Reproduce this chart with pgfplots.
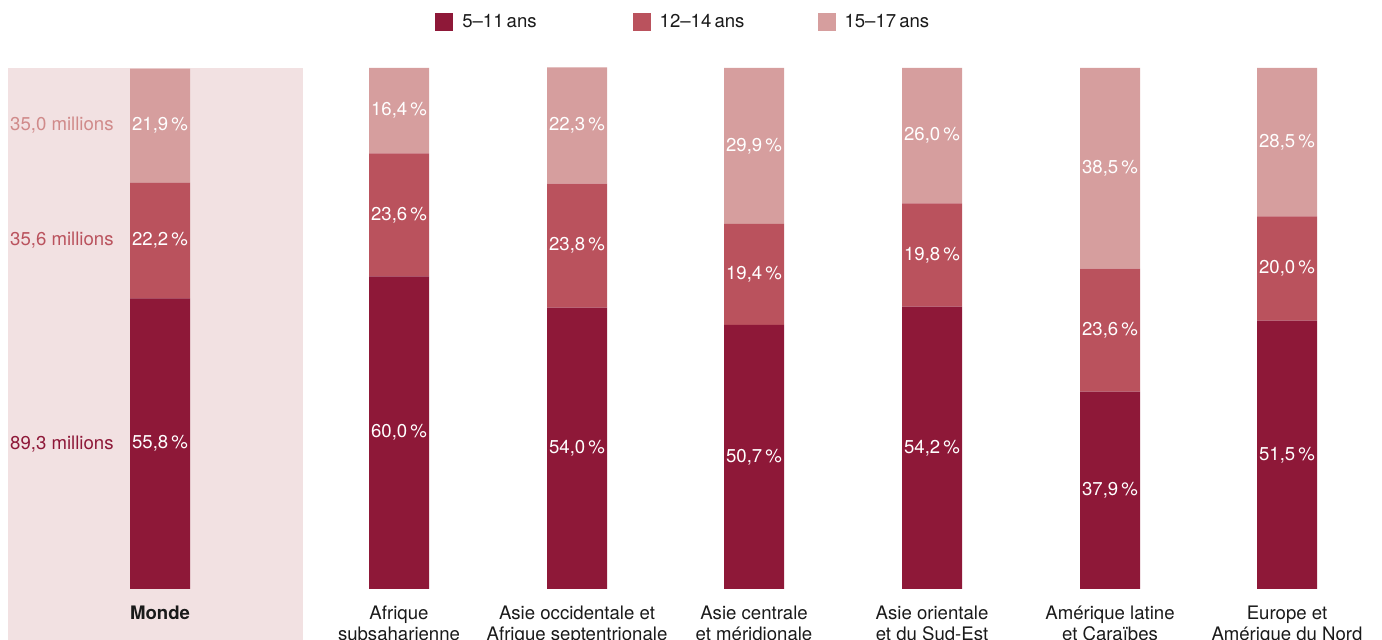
\documentclass[border=0pt]{standalone}
\usepackage{pgfplots}
\pgfplotsset{compat=1.18}
\usepackage{fontspec}
\setmainfont{TeX Gyre Heros}
\definecolor{cA}{HTML}{8E1838}
\definecolor{cB}{HTML}{BA525D}
\definecolor{cC}{HTML}{D69E9E}
\definecolor{cBg}{HTML}{F2E1E2}
\definecolor{cCt}{HTML}{D08A8A}
\definecolor{txt}{HTML}{1A1A1A}
\newcommand{\myfs}{\fontsize{18.6}{22}\selectfont}
\newcommand{\pct}[3]{\node[text=white, font=\myfs, inner sep=0pt] at (axis cs:#1,#2) {#3\,\%};}
\begin{document}
\begin{tikzpicture}
\fill[cBg] (8pt,0pt) rectangle (303pt,572pt);
\begin{axis}[
  x=1pt, y=5.21pt,
  xmin=0, xmax=1382, ymin=-9.789, ymax=113.05,
  hide axis, clip=false,
  ybar stacked, bar width=60pt,
  area legend,
  legend columns=3,
  legend image code/.code={\fill[#1] (0pt,-9pt) rectangle (18pt,9pt);},
  legend style={draw=none, fill=none, font=\myfs, text=txt,
    at={(0.3148,0.9656)}, anchor=west, inner sep=0pt,
    nodes={inner xsep=0pt},
    /tikz/column 1/.style={column sep=9pt},
    /tikz/column 2/.style={column sep=96pt},
    /tikz/column 3/.style={column sep=9pt},
    /tikz/column 4/.style={column sep=73pt},
    /tikz/column 5/.style={column sep=9pt}},
  after end axis/.code={
    \pct{160}{27.9}{55,8}\pct{160}{66.9}{22,2}\pct{160}{88.95}{21,9}
    \pct{399}{30.0}{60,0}\pct{399}{71.8}{23,6}\pct{399}{91.8}{16,4}
    \pct{577}{27.0}{54,0}\pct{577}{65.9}{23,8}\pct{577}{88.95}{22,3}
    \pct{754}{25.35}{50,7}\pct{754}{60.4}{19,4}\pct{754}{85.05}{29,9}
    \pct{932}{27.1}{54,2}\pct{932}{64.1}{19,8}\pct{932}{87.0}{26,0}
    \pct{1110}{18.95}{37,9}\pct{1110}{49.7}{23,6}\pct{1110}{80.75}{38,5}
    \pct{1287}{25.75}{51,5}\pct{1287}{61.5}{20,0}\pct{1287}{85.75}{28,5}
  },
]
\addplot[fill=cA, draw=none] coordinates {(160,55.8) (399,60.0) (577,54.0) (754,50.7) (932,54.2) (1110,37.9) (1287,51.5)};
\addlegendentry{5–11\,ans}
\addplot[fill=cB, draw=none] coordinates {(160,22.2) (399,23.6) (577,23.8) (754,19.4) (932,19.8) (1110,23.6) (1287,20.0)};
\addlegendentry{12–14\,ans}
\addplot[fill=cC, draw=none] coordinates {(160,21.9) (399,16.4) (577,22.3) (754,29.9) (932,26.0) (1110,38.5) (1287,28.5)};
\addlegendentry{15–17\,ans}
\node[text=cCt, font=\myfs, anchor=west, inner sep=0pt] at (axis cs:10,88.95) {35,0 millions};
\node[text=cB, font=\myfs, anchor=west, inner sep=0pt] at (axis cs:10,66.9) {35,6 millions};
\node[text=cA, font=\myfs, anchor=west, inner sep=0pt] at (axis cs:10,27.9) {89,3 millions};
\node[text=txt, font=\myfs\bfseries, anchor=base, inner sep=0pt] at (axis cs:160,-5.76) {Monde};
\node[text=txt, font=\myfs, anchor=base, inner sep=0pt] at (axis cs:399,-5.76) {Afrique};
\node[text=txt, font=\myfs, anchor=base, inner sep=0pt] at (axis cs:399,-9.98) {subsaharienne};
\node[text=txt, font=\myfs, anchor=base, inner sep=0pt] at (axis cs:577,-5.76) {Asie occidentale et};
\node[text=txt, font=\myfs, anchor=base, inner sep=0pt] at (axis cs:577,-9.98) {Afrique septentrionale};
\node[text=txt, font=\myfs, anchor=base, inner sep=0pt] at (axis cs:754,-5.76) {Asie centrale};
\node[text=txt, font=\myfs, anchor=base, inner sep=0pt] at (axis cs:754,-9.98) {et méridionale};
\node[text=txt, font=\myfs, anchor=base, inner sep=0pt] at (axis cs:932,-5.76) {Asie orientale};
\node[text=txt, font=\myfs, anchor=base, inner sep=0pt] at (axis cs:932,-9.98) {et du Sud-Est};
\node[text=txt, font=\myfs, anchor=base, inner sep=0pt] at (axis cs:1110,-5.76) {Amérique latine};
\node[text=txt, font=\myfs, anchor=base, inner sep=0pt] at (axis cs:1110,-9.98) {et Caraïbes};
\node[text=txt, font=\myfs, anchor=base, inner sep=0pt] at (axis cs:1287,-5.76) {Europe et};
\node[text=txt, font=\myfs, anchor=base, inner sep=0pt] at (axis cs:1287,-9.98) {Amérique du Nord};
\end{axis}
\pgfresetboundingbox
\useasboundingbox (0pt,0pt) rectangle (1382pt,640pt);
\end{tikzpicture}
\end{document}
